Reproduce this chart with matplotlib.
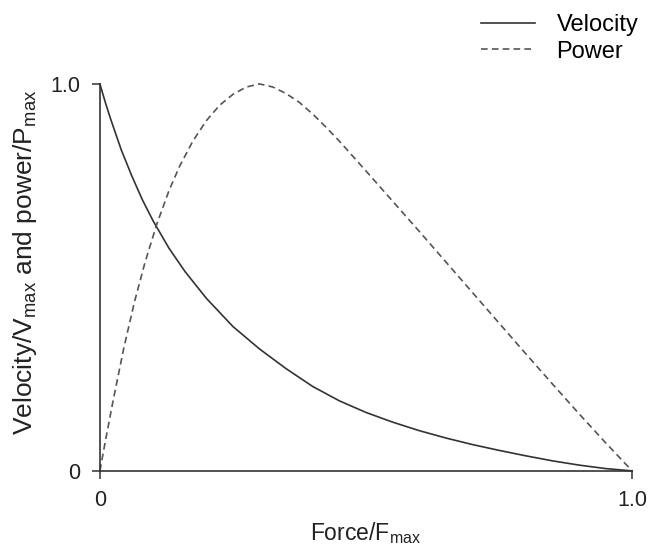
import matplotlib
matplotlib.use('Agg')
import matplotlib.pyplot as plt

plt.rcParams['font.family'] = ['Liberation Sans', 'DejaVu Sans']
plt.rcParams['mathtext.fontset'] = 'custom'
plt.rcParams['mathtext.rm'] = 'Liberation Sans'
plt.rcParams['mathtext.it'] = 'Liberation Sans'

# values (force / Fmax)
force_v = [0, 0.01, 0.02, 0.04, 0.06, 0.08, 0.10, 0.13, 0.16, 0.20, 0.25, 0.30, 0.35,
           0.40, 0.45, 0.50, 0.55, 0.60, 0.65, 0.70, 0.75, 0.80, 0.85, 0.90, 0.95, 1.0]
velocity = [1.0, 0.953, 0.91, 0.83, 0.762, 0.70, 0.646, 0.575, 0.515, 0.446, 0.373, 0.315, 0.264,
            0.218, 0.181, 0.151, 0.126, 0.104, 0.085, 0.068, 0.053, 0.039, 0.026, 0.015, 0.006, 0]

force_p = [0, 0.01, 0.025, 0.045, 0.065, 0.085, 0.107, 0.13, 0.15, 0.175, 0.2, 0.225,
           0.25, 0.275, 0.3, 0.325, 0.35, 0.375, 0.4, 0.425, 0.45, 0.5, 0.55, 0.6,
           0.65, 0.7, 0.75, 0.8, 0.85, 0.9, 0.95, 1.0]
power = [0, 0.075, 0.183, 0.318, 0.437, 0.54, 0.638, 0.725, 0.788, 0.853, 0.905, 0.945,
         0.973, 0.992, 1.0, 0.992, 0.975, 0.952, 0.922, 0.888, 0.852, 0.775, 0.697, 0.619,
         0.54, 0.461, 0.382, 0.303, 0.225, 0.148, 0.073, 0]

xticks = [0, 1.0]
xticklabels = ['0', '1.0']
yticks = [0, 1.0]
yticklabels = ['0', '1.0']

fig = plt.figure(figsize=(6.53, 5.45), dpi=100)
ax = fig.add_axes([0.153, 0.136, 0.815, 0.710])

l1, = ax.plot(force_v, velocity, color='#333333', lw=1.2, clip_on=False, label='Velocity')
l2, = ax.plot(force_p, power, color='#555555', lw=1.2, ls=(0, (4, 2.5)), clip_on=False, label='Power')

ax.set_xlim(0, 1)
ax.set_ylim(0, 1)
ax.spines['top'].set_visible(False)
ax.spines['right'].set_visible(False)
for s in ['left', 'bottom']:
    ax.spines[s].set_linewidth(1.2)
    ax.spines[s].set_color('#333333')

ax.set_xticks(xticks)
ax.set_xticklabels(xticklabels)
ax.set_yticks(yticks)
ax.set_yticklabels(yticklabels)
ax.tick_params(direction='out', length=6, width=1.1, color='#333333', labelsize=15.5,
               labelcolor='#222222', pad=8)

ax.set_xlabel('Force/F$_{\\mathrm{max}}$', fontsize=16.5, color='#222222', labelpad=6)
ax.set_ylabel('Velocity/V$_{\\mathrm{max}}$ and power/P$_{\\mathrm{max}}$', fontsize=19,
              color='#222222')
ax.yaxis.set_label_coords(-0.114, 0.54)

fig.legend(handles=[l1, l2], loc='upper right', bbox_to_anchor=(0.985, 0.983),
           frameon=False, fontsize=17, handlelength=2.3, handletextpad=0.9,
           labelspacing=0.2, borderaxespad=0, borderpad=0.2)

fig.savefig('out.png', dpi=100)
